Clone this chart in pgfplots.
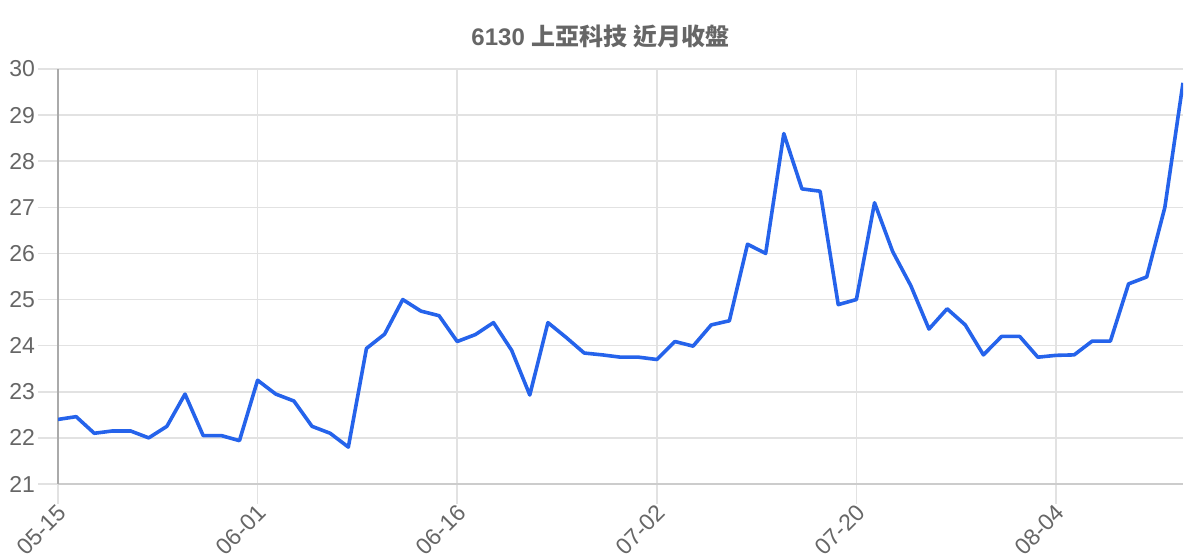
\documentclass[border=0pt]{standalone}
\usepackage{fontspec}
\setmainfont{Liberation Sans}
\newfontfamily\cjk{Noto Sans CJK TC}
\usepackage{pgfplots}
\pgfplotsset{compat=1.18}
\definecolor{gridgray}{HTML}{E2E2E2}
\definecolor{axisgray}{HTML}{AAAAAA}
\definecolor{basegray}{HTML}{CCCCCC}
\definecolor{textgray}{HTML}{666666}
\definecolor{lineblue}{RGB}{37,99,235}

\pgfplotstableread{
idx close
0 22.40
1 22.46
2 22.10
3 22.15
4 22.15
5 22.00
6 22.25
7 22.95
8 22.05
9 22.05
10 21.94
11 23.25
12 22.95
13 22.80
14 22.25
15 22.10
16 21.80
17 23.94
18 24.25
19 25.00
20 24.75
21 24.65
22 24.09
23 24.24
24 24.50
25 23.90
26 22.93
27 24.50
28 24.18
29 23.84
30 23.80
31 23.75
32 23.75
33 23.70
34 24.09
35 23.99
36 24.45
37 24.54
38 26.20
39 26.00
40 28.60
41 27.40
42 27.35
43 24.89
44 25.00
45 27.10
46 26.04
47 25.30
48 24.36
49 24.80
50 24.45
51 23.80
52 24.20
53 24.20
54 23.75
55 23.79
56 23.80
57 24.10
58 24.10
59 25.34
60 25.49
61 27.00
62 29.70
}\closetable

\begin{document}
\begin{tikzpicture}
\useasboundingbox (-29pt,-38pt) rectangle (571pt,242pt);
\begin{axis}[
    at={(0,0)}, anchor=south west,
    scale only axis,
    width=562.5pt, height=207.5pt,
    xmin=0, xmax=62,
    ymin=21, ymax=30,
    ytick={21,22,...,30},
    xtick={0,11,22,33,44,55},
    xticklabels={05-15,06-01,06-16,07-02,07-20,08-04},
    axis lines=left,
    x axis line style={draw=basegray, line width=1pt, -},
    y axis line style={draw=axisgray, line width=1pt, -},
    grid=major,
    major grid style={draw=gridgray, line width=0.8pt},
    tick align=outside,
    major tick length=10pt,
    tick style={draw=gridgray, line width=0.8pt},
    /pgf/number format/assume math mode=true,
    ticklabel style={font=\fontsize{11.5}{13}\selectfont, text=textgray},
    yticklabel style={xshift=2pt},
    xticklabel style={rotate=45, anchor=north east, inner sep=1pt, yshift=2pt, xshift=1pt},
    title={\bfseries 6130 {\cjk\bfseries 上亞科技 近月收盤}},
    title style={at={(0.482,1)}, anchor=center, yshift=10.5pt,
        font=\fontsize{12}{14}\selectfont, text=textgray},
]
\addplot[lineblue, line width=1.8pt, line join=round, no marks] table[x=idx, y=close] {\closetable};
\end{axis}
\end{tikzpicture}
\end{document}
